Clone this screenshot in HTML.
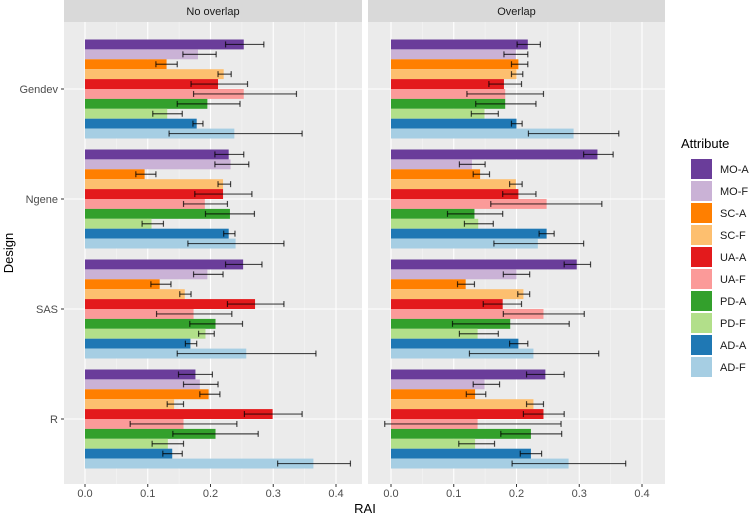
<!DOCTYPE html>
<html><head><meta charset="utf-8"><style>
body{margin:0;background:#fff;font-family:"Liberation Sans",sans-serif}
svg text{font-family:"Liberation Sans",sans-serif}
</style></head><body>
<svg id="chart" width="749" height="518" xmlns="http://www.w3.org/2000/svg"></svg>
<script>
const designs=["Gendev","Ngene","SAS","R"];
const attributes=["MO-A","MO-F","SC-A","SC-F","UA-A","UA-F","PD-A","PD-F","AD-A","AD-F"];
const colors=["#6a3d9a","#cab2d6","#ff7f00","#fdbf6f","#e31a1c","#fb9a99","#33a02c","#b2df8a","#1f78b4","#a6cee3"];
const facets=["No overlap","Overlap"];
const xTicks=[0,0.1,0.2,0.3,0.4];
const noOverlapVals=[
[0.253,0.18,0.13,0.221,0.212,0.253,0.195,0.131,0.178,0.238],
[0.229,0.232,0.095,0.22,0.22,0.191,0.231,0.106,0.229,0.24],
[0.252,0.195,0.119,0.159,0.271,0.173,0.208,0.192,0.168,0.257],
[0.176,0.183,0.197,0.142,0.299,0.157,0.208,0.132,0.139,0.364]];
const noOverlapLo=[
[0.224,0.156,0.113,0.212,0.169,0.173,0.147,0.108,0.172,0.134],
[0.207,0.207,0.081,0.212,0.175,0.157,0.192,0.091,0.221,0.164],
[0.224,0.173,0.105,0.151,0.227,0.114,0.167,0.181,0.16,0.147],
[0.149,0.157,0.183,0.131,0.254,0.072,0.14,0.107,0.124,0.307]];
const noOverlapHi=[
[0.285,0.209,0.147,0.233,0.259,0.337,0.247,0.155,0.188,0.346],
[0.253,0.261,0.113,0.232,0.266,0.227,0.27,0.125,0.239,0.317],
[0.282,0.22,0.137,0.169,0.317,0.234,0.251,0.206,0.178,0.368],
[0.203,0.212,0.215,0.157,0.346,0.242,0.276,0.157,0.155,0.423]];
const overlapVals=[
[0.218,0.199,0.203,0.2,0.18,0.182,0.182,0.149,0.2,0.291],
[0.329,0.129,0.142,0.199,0.203,0.248,0.133,0.139,0.248,0.234],
[0.296,0.2,0.119,0.211,0.178,0.243,0.19,0.138,0.203,0.227],
[0.246,0.149,0.134,0.227,0.243,0.138,0.223,0.134,0.223,0.283]];
const overlapLo=[
[0.201,0.18,0.192,0.192,0.156,0.121,0.135,0.128,0.192,0.219],
[0.307,0.109,0.131,0.189,0.178,0.159,0.09,0.117,0.236,0.164],
[0.276,0.179,0.106,0.202,0.147,0.179,0.098,0.109,0.189,0.125],
[0.216,0.131,0.12,0.216,0.211,-0.01,0.175,0.108,0.206,0.193]];
const overlapHi=[
[0.238,0.218,0.218,0.21,0.208,0.243,0.231,0.171,0.209,0.363],
[0.354,0.15,0.157,0.209,0.231,0.336,0.178,0.163,0.26,0.307],
[0.318,0.221,0.133,0.221,0.208,0.308,0.284,0.171,0.218,0.331],
[0.276,0.173,0.151,0.243,0.276,0.271,0.272,0.165,0.24,0.374]];
const vals=[noOverlapVals,overlapVals],los=[noOverlapLo,overlapLo],his=[noOverlapHi,overlapHi];

const svg=document.getElementById('chart');
const NS="http://www.w3.org/2000/svg";
function mk(tag,attrs,parent){const e=document.createElementNS(NS,tag);for(const k in attrs)e.setAttribute(k,attrs[k]);(parent||svg).appendChild(e);return e;}
const panels=[{x0:64,x1:362,zero:85},{x0:368,x1:665,zero:391}];
const pxPer=627.5;
const yTop=22,yBottom=484;
const groupPitch=110,barH=9.9;
function xScale(p,v){return panels[p].zero+v*pxPer;}
function yCenter(d){return 89+d*groupPitch;}
panels.forEach((P,p)=>{
  const strip=mk('rect',{x:P.x0,y:0,width:P.x1-P.x0,height:yTop,fill:'#d9d9d9'});
  
  
  const st=mk('text',{x:(P.x0+P.x1)/2,y:15,'text-anchor':'middle','font-size':11,fill:'#1a1a1a'});
  st.textContent=facets[p];
  
  
  const bg=mk('rect',{x:P.x0,y:yTop,width:P.x1-P.x0,height:yBottom-yTop,fill:'#ebebeb'});
  
  
  for(let i=0;i<xTicks.length;i++){
    const x=xScale(p,xTicks[i]);
    mk('line',{x1:x,x2:x,y1:yTop,y2:yBottom,stroke:'#fff','stroke-width':1.1});
    if(i<xTicks.length-1){const xm=xScale(p,xTicks[i]+0.05);mk('line',{x1:xm,x2:xm,y1:yTop,y2:yBottom,stroke:'#f5f5f5','stroke-width':0.6});}
    mk('line',{x1:x,x2:x,y1:yBottom,y2:yBottom+3,stroke:'#333'});
    const t=mk('text',{x:x,y:yBottom+13,'text-anchor':'middle','font-size':11,fill:'#4d4d4d'});
    t.textContent=xTicks[i].toFixed(1);
    
    
  }
  designs.forEach((d,di)=>{
    mk('line',{x1:P.x0,x2:P.x1,y1:yCenter(di),y2:yCenter(di),stroke:'#fff','stroke-width':1.1});
  });
  designs.forEach((d,di)=>{
    attributes.forEach((a,ai)=>{
      const y=yCenter(di)-5*barH+ai*barH;
      const v=vals[p][di][ai];
      const r=mk('rect',{x:xScale(p,0),y:y,width:xScale(p,v)-xScale(p,0),height:barH,fill:colors[ai]});
      
      
      const yc=y+barH/2,xl=xScale(p,los[p][di][ai]),xh=xScale(p,his[p][di][ai]);
      const g=mk('g',{stroke:'#000','stroke-opacity':0.7,'stroke-width':1.2});
      
      
      mk('line',{x1:xl,x2:xh,y1:yc,y2:yc},g);
      mk('line',{x1:xl,x2:xl,y1:yc-3,y2:yc+3},g);
      mk('line',{x1:xh,x2:xh,y1:yc-3,y2:yc+3},g);
    });
  });
});
designs.forEach((d,di)=>{
  const y=yCenter(di);
  mk('line',{x1:61,x2:64,y1:y,y2:y,stroke:'#333'});
  const t=mk('text',{x:58,y:y+4,'text-anchor':'end','font-size':11,fill:'#4d4d4d'});
  t.textContent=d;
  
  
});
const yt=mk('text',{x:13,y:253,'text-anchor':'middle','font-size':13,fill:'#000',transform:'rotate(-90 13 253)'});
yt.textContent='Design';


const xt=mk('text',{x:365,y:513,'text-anchor':'middle','font-size':13,fill:'#000'});
xt.textContent='RAI';


const lt=mk('text',{x:681,y:148,'font-size':13,fill:'#000'});
lt.textContent='Attribute';


attributes.forEach((a,ai)=>{
  const y=159+ai*22;
  const k=mk('rect',{x:691,y:y,width:21,height:20,fill:colors[ai]});
  
  
  const t=mk('text',{x:720,y:y+14,'font-size':11,fill:'#1a1a1a'});
  t.textContent=a;
  
  
});
</script>
</body></html>
